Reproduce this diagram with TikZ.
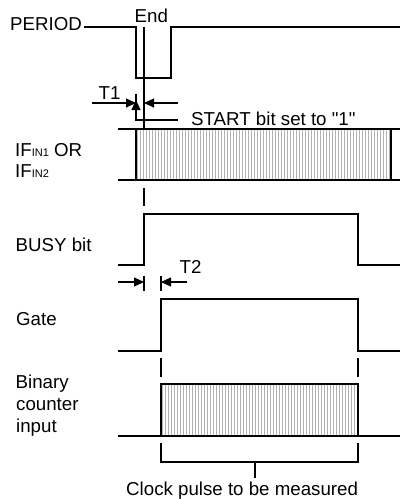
\documentclass[tikz,border=0pt]{standalone}
\usepackage{fontspec}
\setmainfont{Liberation Sans}
\newfontfamily\qfont{Liberation Sans}
\usetikzlibrary{arrows.meta}
\begin{document}
\begin{tikzpicture}[x=1pt,y=-1pt,
  wave/.style={line width=1.1pt,line join=miter},
  thin/.style={line width=1.1pt},
  dim/.style={line width=1.1pt,-{Triangle[length=10pt,width=9pt]}},
  lbl/.style={anchor=base west,inner sep=0pt,font=\fontsize{18.7}{22}\selectfont},
  hatch/.style={line width=1.7pt,black!30}]
\useasboundingbox (0,0) rectangle (400,499);
% labels
\node[lbl] (lperiod) at (10,30) {PERIOD};
\node[lbl] (lend) at (134.5,22) {End};
\node[lbl] (lt1) at (98.5,99) {T1};
\node[lbl] (lstart) at (191,125) {START bit set to {\qfont"}1{\qfont"}};
\node[lbl] (lif1) at (15,156) {IF{\fontsize{11}{13}\selectfont IN1} OR};
\node[lbl] (lif2) at (15,177) {IF{\fontsize{11}{13}\selectfont IN2}};
\node[lbl] (lbusy) at (15.5,251) {BUSY bit};
\node[lbl] (lt2) at (179.5,273) {T2};
\node[lbl] (lgate) at (16,325) {Gate};
\node[lbl] (lbin1) at (15.5,388) {Binary};
\node[lbl] (lbin2) at (16,410) {counter};
\node[lbl] (lbin3) at (16,432) {input};
\node[lbl] (lclock) at (126,495) {Clock pulse to be measured};
% hatched areas
\fill[white] (136,129) rectangle (391,180);
\foreach \x in {137.5,140.5,...,390} \draw[hatch] (\x,129) -- (\x,180);
\fill[white] (161,384) rectangle (358,436);
\foreach \x in {162.5,165.5,...,357} \draw[hatch] (\x,384) -- (\x,436);
% PERIOD waveform
\draw[wave] (84,27) -- (136,27) -- (136,78) -- (171,78) -- (171,27) -- (400,27);
% End marker line
\coordinate (endtop) at (144,27);
\coordinate (endbot) at (144,129);
\draw[thin] (endtop) -- (endbot);
% T1 dimension
\coordinate (t1a) at (136,103);
\coordinate (t1b) at (144,103);
\draw[dim] (92,103) -- (t1a);
\draw[dim] (178,103) -- (t1b);
\draw[thin] (136,94) -- (136,120) -- (178,120);
\draw[dim] (136,120) -- (136,100);
% IF lines
\draw[thin] (118,129) -- (400,129);
\draw[thin] (118,180) -- (400,180);
\draw[thin] (136,129) -- (136,180);
\draw[thin] (391,129) -- (391,180);
% dash below IF
\draw[thin] (144,188) -- (144,206);
% BUSY waveform
\draw[wave] (118,265) -- (144,265) -- (144,214) -- (358,214) -- (358,265) -- (400,265);
% T2 dimension
\draw[thin] (144,276) -- (144,291);
\draw[thin] (161,276) -- (161,291);
\coordinate (t2a) at (144,282);
\coordinate (t2b) at (161,282);
\draw[dim] (118,282) -- (t2a);
\draw[dim] (187,282) -- (t2b);
% Gate waveform
\draw[wave] (118,351) -- (161,351) -- (161,299) -- (358,299) -- (358,351) -- (400,351);
% dashes between gate and counter
\draw[thin] (161,358) -- (161,377);
\draw[thin] (358,358) -- (358,377);
% Binary counter input
\draw[thin] (118,436) -- (400,436);
\draw[thin] (161,436) -- (161,384) -- (358,384) -- (358,436);
% bracket
\draw[wave] (161,443) -- (161,462) -- (358,462) -- (358,443);
\draw[thin] (255,462) -- (255,478);
\end{tikzpicture}
\end{document}
